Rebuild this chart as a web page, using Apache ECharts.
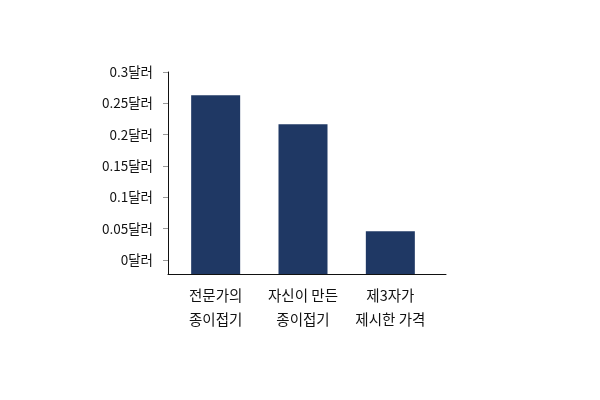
<!DOCTYPE html>
<html><head><meta charset="utf-8">
<script src="https://cdn.jsdelivr.net/npm/echarts@6/dist/echarts.min.js"></script>
<style>html,body{margin:0;padding:0;background:#fff}#c{width:600px;height:400px}</style>
</head><body><div id="c"></div>
<script>
const categories = ['전문가의\n종이접기', '자신이 만든\n종이접기', '제3자가\n제시한 가격'];
const values = [0.263, 0.2165, 0.0458];
const tickValues = [0, 0.05, 0.1, 0.15, 0.2, 0.25, 0.3];
const unit = '달러';
const yMin = -0.0225, yMax = 0.3;

const font = 'Noto Sans CJK KR';
const chart = echarts.init(document.getElementById('c'), null, {renderer: 'canvas'});
chart.setOption({
  animation: false,
  grid: [
    {left: 172, right: 166, top: 72, bottom: 126},
    {left: 168, right: 154, top: 72, bottom: 126}
  ],
  xAxis: [
    {type: 'category', gridIndex: 0, data: categories,
     axisLine: {show: false}, axisTick: {show: false},
     axisLabel: {interval: 0, hideOverlap: false, margin: 9, fontSize: 14.5, lineHeight: 24, color: '#111', fontFamily: font}},
    {type: 'value', gridIndex: 1, min: 0, max: 1,
     axisLine: {show: true, lineStyle: {color: '#111', width: 1}},
     axisTick: {show: false}, axisLabel: {show: false}, splitLine: {show: false}}
  ],
  yAxis: [
    {type: 'value', gridIndex: 0, min: yMin, max: yMax, startValue: yMin, offset: 4,
     axisLine: {show: true, lineStyle: {color: '#111', width: 1}},
     axisTick: {show: true, length: 5, customValues: tickValues, lineStyle: {color: '#999'}},
     axisLabel: {margin: 15, fontSize: 13.5, color: '#111', fontFamily: font,
       customValues: tickValues, formatter: v => v + unit},
     splitLine: {show: false}},
    {type: 'value', gridIndex: 1, show: false, min: 0, max: 1}
  ],
  series: [{
    type: 'bar', xAxisIndex: 0, yAxisIndex: 0, data: values, barWidth: 49,
    itemStyle: {color: '#1f3864'}
  }]
});
</script></body></html>
